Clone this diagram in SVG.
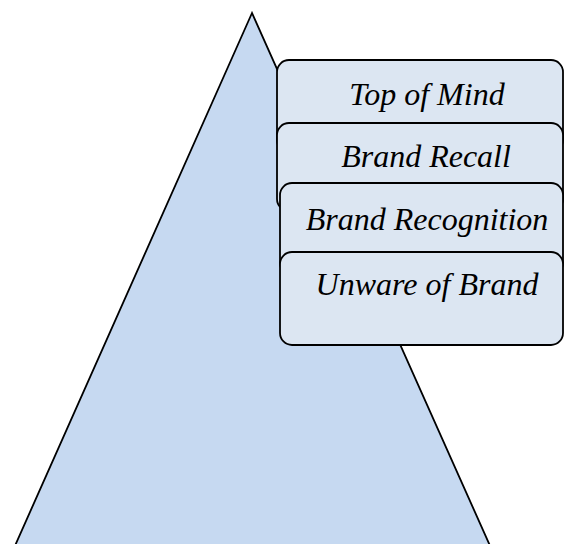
<svg xmlns="http://www.w3.org/2000/svg" width="565" height="544" viewBox="0 0 565 544">
<style>
.box{fill:#DCE6F2;stroke:#000;stroke-width:1.8}
.lbl{font-family:"Liberation Serif","Times New Roman",serif;font-style:italic;font-size:32px;fill:#000;text-anchor:middle}
</style>
<rect width="565" height="544" fill="#fff"/>
<g id="pyramid">
<polygon points="252,13 14,548 491,548" fill="#C6D9F1" stroke="#000" stroke-width="1.8"/>
</g>
<g id="connectors"></g>
<g id="top-of-mind">
<rect class="box" x="277" y="60" width="286" height="92" rx="12" ry="12"/>
<text class="lbl" x="427" y="105">Top of Mind</text>
</g>
<g id="brand-recall">
<rect class="box" x="277" y="123" width="286" height="88" rx="12" ry="12"/>
<text class="lbl" x="426" y="167">Brand Recall</text>
</g>
<g id="brand-recognition">
<rect class="box" x="280" y="183" width="283" height="92" rx="12" ry="12"/>
<text class="lbl" x="427" y="229.5">Brand Recognition</text>
</g>
<g id="unaware">
<rect class="box" x="280" y="252" width="283" height="93" rx="12" ry="12"/>
<text class="lbl" x="427" y="295">Unware of Brand</text>
</g>
</svg>
